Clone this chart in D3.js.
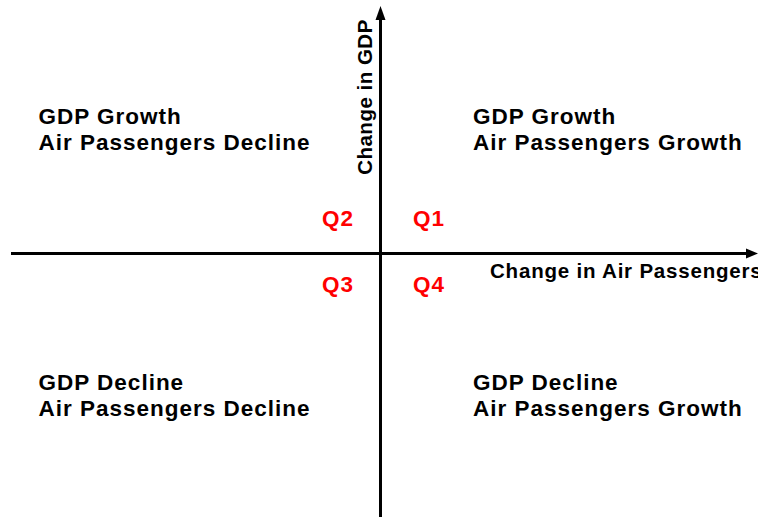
<!DOCTYPE html>
<html>
<head>
<meta charset="utf-8">
<script src="https://cdn.jsdelivr.net/npm/d3@7"></script>
<style>
  html, body { margin: 0; padding: 0; background: #fff; }
  svg { display: block; }
  text { font-family: "Liberation Sans", Arial, sans-serif; font-weight: bold; }
</style>
</head>
<body>
<div id="chart"></div>
<script>
// quadrant definitions
const quadrantIds = ["Q1", "Q2", "Q3", "Q4"];
const xSign = [1, -1, -1, 1];
const ySign = [1, 1, -1, -1];
const gdpLabels = ["GDP Growth", "GDP Growth", "GDP Decline", "GDP Decline"];
const paxLabels = ["Air Passengers Growth", "Air Passengers Decline", "Air Passengers Decline", "Air Passengers Growth"];
const axisTitles = ["Change in Air Passengers", "Change in GDP"];

const width = 758;
const height = 517;

const svg = d3.select("#chart")
  .append("svg")
  .attr("width", width)
  .attr("height", height);

const x = d3.scaleLinear().domain([-1, 1]).range([11, 750]);
const y = d3.scaleLinear().domain([-1, 1]).range([501, 6]);
const ox = x(0);
const oy = y(0);

// axes
svg.append("line")
  .attr("x1", x(-1)).attr("x2", 748)
  .attr("y1", oy).attr("y2", oy)
  .attr("stroke", "#000").attr("stroke-width", 3);

svg.append("path")
  .attr("d", `M${width},${oy} L${width - 12},${oy - 5} L${width - 12},${oy + 5} Z`)
  .attr("fill", "#000");

svg.append("line")
  .attr("x1", ox).attr("x2", ox)
  .attr("y1", height).attr("y2", y(1) + 12)
  .attr("stroke", "#000").attr("stroke-width", 3);

svg.append("path")
  .attr("d", `M${ox},${y(1)} L${ox - 5},${y(1) + 14} L${ox + 5},${y(1) + 14} Z`)
  .attr("fill", "#000");

// axis titles
svg.append("text")
  .attr("x", 490)
  .attr("y", oy + 24)
  .attr("font-size", 20.5)
  .attr("letter-spacing", 0.8)
  .attr("fill", "#000")
  .text(axisTitles[0]);

svg.append("text")
  .attr("transform", `translate(${ox - 8.5},97) rotate(-90)`)
  .attr("text-anchor", "middle")
  .attr("font-size", 20.5)
  .attr("letter-spacing", 0.5)
  .attr("fill", "#000")
  .text(axisTitles[1]);

// quadrant descriptions
quadrantIds.forEach((q, i) => {
  const tx = xSign[i] > 0 ? ox + 92.5 : 38.5;
  const ty = ySign[i] > 0 ? oy - 129.5 : oy + 136.5;
  const g = svg.append("text")
    .attr("font-size", 22.5)
    .attr("letter-spacing", 1)
    .attr("fill", "#000");
  g.append("tspan").attr("x", tx).attr("y", ty).text(gdpLabels[i]);
  g.append("tspan").attr("x", tx).attr("y", ty + 26).text(paxLabels[i]);

  // red quadrant tags
  svg.append("text")
    .attr("x", xSign[i] > 0 ? ox + 32.5 : ox - 58.5)
    .attr("y", ySign[i] > 0 ? oy - 27.5 : oy + 38.5)
    .attr("font-size", 22.5)
    .attr("letter-spacing", 1)
    .attr("fill", "#ff0000")
    .text(q);
});
</script>
</body>
</html>
